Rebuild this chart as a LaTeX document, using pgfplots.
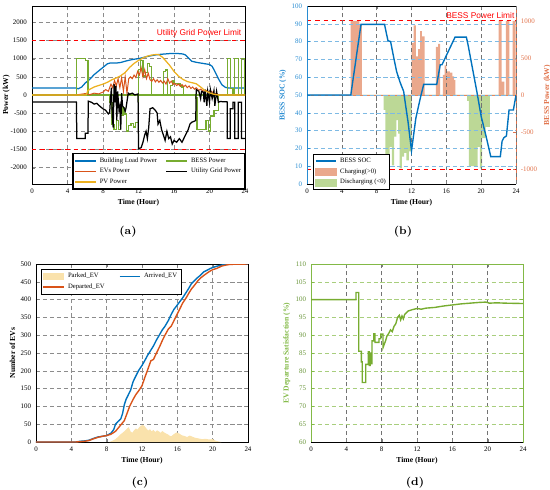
\documentclass[border=0pt]{standalone}
\usepackage{fontspec}
\setmainfont{Liberation Serif}
\newfontfamily\lsans{Liberation Sans}
\newfontfamily\lmr{Latin Modern Roman}
\usepackage{pgfplots}
\pgfplotsset{compat=1.18}
\usepackage{pgfplotstable}

\definecolor{mblue}{RGB}{0,114,189}
\definecolor{morange}{RGB}{217,83,25}
\definecolor{myellow}{RGB}{237,177,32}
\definecolor{mgreen}{RGB}{119,172,48}
\definecolor{socblue}{RGB}{40,140,210}
\definecolor{pwrorange}{RGB}{225,115,75}
\definecolor{chargefill}{RGB}{234,168,140}
\definecolor{dischfill}{RGB}{188,216,150}
\definecolor{parkfill}{RGB}{250,226,172}
\definecolor{dgreen}{RGB}{130,185,70}

\pgfplotstableread{
t p
0 0
5.0 0
5.0 1000
6.0 1000
6.0 950
6.3 950
6.3 0
12.0 0
12.0 700
12.25 700
12.25 940
12.5 940
12.5 520
12.75 520
12.75 620
13.0 620
13.0 860
13.2 860
13.2 790
13.5 790
13.5 0
14.8 0
14.8 650
15.05 650
15.05 690
15.3 690
15.3 0
15.6 0
15.6 270
15.8 270
15.8 400
16.0 400
16.0 320
16.4 320
16.4 300
16.7 300
16.7 250
16.9 250
16.9 200
17.05 200
17.05 0
22.0 0
22.0 1000
22.35 1000
22.35 180
22.65 180
22.65 0
22.85 0
22.85 1000
23.25 1000
23.25 0
23.6 0
23.6 1000
23.95 1000
23.95 0
24 0
}\chargetab

\pgfplotstableread{
t p
0 0
8.8 0
8.8 -200
9.0 -200
9.0 -810
9.25 -810
9.25 -940
9.5 -940
9.5 -700
9.75 -700
9.75 -950
10.0 -950
10.0 -560
10.25 -560
10.25 -340
10.45 -340
10.45 -520
10.65 -520
10.65 -990
10.9 -990
10.9 -830
11.15 -830
11.15 -780
11.4 -780
11.4 -880
11.7 -880
11.7 -760
12.0 -760
12.0 0
18.4 0
18.4 -80
18.6 -80
18.6 -960
19.6 -960
19.6 -700
19.85 -700
19.85 -990
20.1 -990
20.1 -580
20.5 -580
20.5 -430
21.0 -430
21.0 0
24 0
}\dischtab

\pgfplotsset{
  base/.style={
    scale only axis, height=128.16pt,
    xmin=0, xmax=24, xtick={0,4,...,24},
    tick label style={font=\fontsize{5}{6}\selectfont},
    label style={font=\fontsize{5.5}{6.5}\selectfont\bfseries},
    /pgf/number format/assume math mode=true,
    /pgf/number format/1000 sep={},
    major tick length=2pt, tick align=inside,
    axis line style={line width=0.4pt},
    major grid style={densely dashed, black!45, line width=0.3pt},
    xlabel={Time (Hour)},
    xlabel style={yshift=3pt},
    legend style={font=\fontsize{4.8}{5.5}\selectfont,
      inner sep=0.8pt, row sep=-1.2pt},
    legend image code/.code={\draw[#1, line width=1.4pt] (0pt,0pt) -- (15pt,0pt);},
    legend cell align=left,
  },
}

\begin{document}
\begin{tikzpicture}
\useasboundingbox (0,0) rectangle (396pt,-352.8pt);

% ---------------- (a)
\begin{axis}[base, at={(23.04pt,-132.48pt)}, anchor=south west, width=153.36pt,
  ymin=-2450, ymax=2450, ytick={-2000,-1500,...,2000},
  grid=major, ylabel={Power (kW)}, ylabel style={yshift=-6.5pt},
  legend columns=2,
  legend style={at={(0.19,0.174)}, anchor=north west, /tikz/every even column/.append style={column sep=4pt}},
  line width=0.9pt]
\addplot[red, dashed, line width=0.6pt, forget plot] coordinates {(0,1500)(24,1500)};
\addplot[red, dashed, line width=0.6pt, forget plot] coordinates {(0,-1500)(24,-1500)};
\addplot[mblue] coordinates {(0,190)(5,190)(5.2,170)(5.6,220)(6,330)(6.5,430)(7,560)(7.5,660)(8,760)(8.5,860)(8.8,880)(9.5,880)(10,895)(10.5,930)(11,960)(11.5,985)(12,1000)(12.5,1030)(13,1060)(13.5,1085)(14,1105)(14.5,1120)(15,1130)(15.5,1140)(16,1140)(16.5,1140)(17,1130)(17.3,1100)(17.6,1030)(18,930)(18.5,900)(19,880)(19.5,860)(20,840)(20.3,790)(20.6,650)(21,450)(21.4,280)(21.8,210)(22.2,190)(24,190)};
\addlegendentry{Building Load Power}
\addplot[mgreen] table[x=t,y=p] {\chargetab};
\addlegendentry{BESS Power}
\addplot[mgreen, forget plot] table[x=t,y=p] {\dischtab};
\addplot[morange, line width=0.7pt] coordinates {(0,0)(5,0)(5.5,20)(6,40)(6.5,10)(7,50)(7.5,30)(8,80)(8.3,150)(8.6,100)(8.9,300)(9.1,200)(9.3,400)(9.5,250)(9.7,450)(9.9,200)(10.1,480)(10.3,100)(10.5,500)(10.7,50)(10.9,450)(11.1,500)(11.3,450)(11.5,550)(11.7,480)(11.9,650)(12.1,550)(12.3,750)(12.5,500)(12.7,700)(12.9,450)(13.1,600)(13.3,420)(13.5,380)(13.7,450)(13.9,360)(14.1,420)(14.3,350)(14.5,400)(14.7,330)(14.9,380)(15.1,300)(15.3,450)(15.5,330)(15.7,380)(15.9,290)(16.1,320)(16.3,260)(16.5,300)(16.7,240)(16.9,290)(17.1,230)(17.3,270)(17.5,200)(17.7,250)(17.9,180)(18.1,220)(18.3,160)(18.5,200)(18.8,130)(19.0,160)(19.3,110)(19.6,130)(19.9,80)(20.2,100)(20.5,50)(20.8,40)(21.0,0)(24,0)};
\addlegendentry{EVs Power}
\addplot[black] coordinates {(0,-190)(5.0,-190)(5.05,-1200)(6.0,-1200)(6.0,-1050)(6.3,-1050)(6.35,-170)(6.7,-200)(7.0,-250)(7.3,-230)(7.6,-300)(8.0,-380)(8.3,-420)(8.6,-520)(8.75,-480)(8.85,-100)(8.95,200)(9.05,-600)(9.15,-900)(9.25,300)(9.35,-200)(9.45,250)(9.55,-700)(9.65,100)(9.8,-400)(9.9,-300)(10.0,-950)(10.1,50)(10.2,-300)(10.35,-350)(10.5,-450)(10.6,-350)(10.75,-100)(10.85,50)(11.0,20)(11.3,50)(11.6,0)(11.95,30)(12.0,-1480)(12.3,-1450)(12.5,-1300)(12.7,-1100)(12.85,-1000)(13.0,-1200)(13.15,-900)(13.3,-380)(13.6,-350)(13.9,-420)(14.1,-500)(14.2,-800)(14.4,-700)(14.6,-950)(14.8,-1100)(15.0,-1250)(15.2,-1000)(15.4,-1200)(15.6,-1150)(15.8,-1350)(16.0,-1250)(16.3,-1300)(16.6,-1200)(16.9,-1300)(17.1,-1200)(17.3,-1100)(17.6,-950)(17.8,-800)(18.0,-750)(18.3,-720)(18.45,-700)(18.5,150)(18.8,100)(19.0,-100)(19.1,100)(19.3,80)(19.4,-200)(19.5,150)(19.7,-300)(19.8,100)(20.0,-200)(20.1,150)(20.3,-100)(20.5,120)(20.6,-300)(20.8,100)(21.0,-200)(21.2,-180)(22.0,-190)(22.0,-1200)(22.35,-1200)(22.35,-380)(22.65,-380)(22.65,-200)(22.85,-200)(22.85,-1200)(23.25,-1200)(23.25,-200)(23.6,-200)(23.6,-1200)(23.95,-1200)(24,-1200)};
\addlegendentry{Utility Grid Power}
\addplot[myellow] coordinates {(0,0)(6.1,0)(6.3,120)(6.6,170)(7,220)(7.5,260)(8,300)(8.5,350)(9,420)(9.5,470)(10,530)(10.5,620)(11,760)(11.5,870)(12,950)(12.5,1020)(13,1070)(13.5,1100)(14,1115)(14.3,1110)(14.7,1040)(15,960)(15.5,820)(16,650)(16.5,520)(17,430)(17.5,370)(18,340)(18.5,310)(19,220)(19.5,120)(20,60)(20.5,20)(21,0)(24,0)};
\addlegendentry{PV Power}
\node[anchor=south east, red, font=\lsans\fontsize{6}{7}\selectfont, inner sep=1pt, yshift=1pt] at (axis cs:23.8,1500) {Utility Grid Power Limit};
\end{axis}

% ---------------- (b) right axis (bars)
\begin{axis}[base, at={(221.04pt,-132.48pt)}, anchor=south west, width=150.48pt,
  ymin=-1200, ymax=1200, ytick={-1000,-500,0,500,1000},
  axis y line*=right, axis x line=none,
  y axis line style={pwrorange},
  yticklabel style={pwrorange}, ytick style={pwrorange},
  ylabel={BESS Power (kW)}, ylabel style={pwrorange, yshift=2pt}, xlabel={}]
\addplot[fill=chargefill, draw=none] table[x=t,y=p] {\chargetab} \closedcycle;
\addplot[fill=dischfill, draw=none] table[x=t,y=p] {\dischtab} \closedcycle;
\addplot[morange!70!white, line width=0.4pt] coordinates {(0,0)(24,0)};
\addplot[red, dashed, line width=0.6pt] coordinates {(0,1000)(24,1000)};
\addplot[red, dashed, line width=0.6pt] coordinates {(0,-1000)(24,-1000)};
\node[anchor=south east, red, font=\lsans\fontsize{6}{7}\selectfont, inner sep=1pt, yshift=0.5pt] at (axis cs:24,1000) {BESS Power Limit};
\end{axis}

% ---------------- (b) left axis (SOC)
\begin{axis}[base, at={(221.04pt,-132.48pt)}, anchor=south west, width=150.48pt,
  ymin=0, ymax=100, ytick={0,10,...,100},
  axis y line*=left, axis x line*=box,
  y axis line style={socblue},
  yticklabel style={socblue}, ytick style={socblue},
  ylabel={BESS SOC (\%)}, ylabel style={socblue, yshift=-3pt},
  xmajorgrids, ymajorgrids,
  x grid style={densely dashed, black!55, line width=0.3pt},
  y grid style={densely dashed, socblue!60, line width=0.3pt},
  legend style={at={(0.03,0.169)}, anchor=north west}]
\addplot[mblue, line width=1pt] coordinates {(0,50)(5.03,50)(6.2,89.7)(8.9,89.7)(9.1,85)(9.3,80.5)(9.6,80)(10,70)(10.3,63)(10.7,57)(11.1,52)(11.3,45)(11.6,35)(12,18.7)(12.5,37)(13,48)(13.4,56)(14.9,56)(15.3,67)(15.5,67)(17,82.5)(18.3,82.5)(18.5,78)(19.5,52)(20,38)(20.6,26)(21.1,15.4)(22.2,15.4)(22.4,24)(22.6,26)(22.9,27)(23.2,41.6)(23.7,41.6)(24,50)};
\addlegendentry{BESS SOC}
\addlegendimage{legend image code/.code={\fill[chargefill] (0pt,-2.6pt) rectangle (15pt,2.6pt);}}
\addlegendentry{Charging(>0)}
\addlegendimage{legend image code/.code={\fill[dischfill] (0pt,-2.6pt) rectangle (15pt,2.6pt);}}
\addlegendentry{Discharging (<0)}
\end{axis}

% ---------------- (c)
\begin{axis}[base, at={(25.92pt,-318.24pt)}, anchor=south west, width=152.64pt,
  ymin=0, ymax=500, ytick={0,50,...,500}, grid=major,
  ylabel={Number of EVs}, ylabel style={yshift=-3pt},
  legend columns=2,
  legend style={at={(0.024,0.972)}, anchor=north west, /tikz/every even column/.append style={column sep=8pt}}]
\addplot[fill=parkfill, draw=none, legend image code/.code={\fill[parkfill] (0pt,-2.6pt) rectangle (15pt,2.6pt);}] coordinates {(8.3,0)(8.6,3)(9,8)(9.3,15)(9.6,22)(9.9,28)(10.2,35)(10.5,42)(10.7,30)(10.9,26)(11.1,33)(11.3,38)(11.5,35)(11.7,42)(11.9,46)(12.1,48)(12.3,44)(12.5,38)(12.7,32)(12.9,36)(13.1,30)(13.3,34)(13.5,28)(13.7,33)(13.9,30)(14.1,26)(14.3,31)(14.5,27)(14.7,24)(14.9,22)(15.1,18)(15.3,16)(15.6,22)(15.9,27)(16.2,24)(16.5,19)(16.8,17)(17.1,14)(17.4,18)(17.7,15)(18,12)(18.4,10)(18.8,8)(19.2,9)(19.6,7)(20,8)(20.3,4)(20.6,2)(21,0)} \closedcycle;
\addlegendentry{Parked\_EV}
\addplot[mblue, line width=1pt] coordinates {(0,0)(4.5,0)(5,2)(5.5,3)(6,5)(6.5,10)(7,14)(7.5,16)(8,18)(8.5,25)(8.8,35)(9,50)(9.3,58)(9.6,65)(9.8,80)(10,105)(10.2,120)(10.5,135)(10.7,145)(11,170)(11.3,185)(11.6,200)(12,215)(12.3,228)(12.6,242)(13,258)(13.3,270)(13.6,285)(14,302)(14.3,315)(14.6,325)(15,342)(15.3,358)(15.6,372)(16,385)(16.3,395)(16.6,405)(17,420)(17.3,432)(17.6,445)(18,455)(18.3,462)(18.6,468)(19,478)(19.4,483)(19.7,487)(20,490)(20.5,494)(21,497)(21.5,499)(22,500)(24,500)};
\addlegendentry{Arrived\_EV}
\addplot[morange, line width=1pt] coordinates {(0,0)(4.5,0)(5,1)(5.5,2)(6,4)(6.5,9)(7,13)(7.5,16)(8,18)(8.5,22)(9,30)(9.5,45)(10,60)(10.3,80)(10.6,100)(11,120)(11.3,133)(11.6,143)(12,158)(12.3,180)(12.6,200)(13,228)(13.3,232)(13.6,248)(14,268)(14.3,285)(14.6,300)(15,318)(15.3,325)(15.6,340)(16,360)(16.3,375)(16.6,390)(17,405)(17.3,418)(17.6,430)(18,442)(18.3,452)(18.6,460)(19,468)(19.4,475)(19.7,480)(20,484)(20.5,488)(21,494)(21.5,497)(22,499)(24,500)};
\addlegendentry{Departed\_EV}
\end{axis}

% ---------------- (d)
\begin{axis}[base, at={(223.92pt,-318.24pt)}, anchor=south west, width=152.64pt,
  ymin=60, ymax=110, ytick={60,65,...,110},
  axis line style={dgreen}, yticklabel style={dgreen!80!black}, ytick style={dgreen},
  xmajorgrids, ymajorgrids,
  x grid style={densely dashed, black!55, line width=0.3pt},
  y grid style={densely dashed, dgreen!70, line width=0.3pt},
  ylabel={EV Departure Satisfaction (\%)}, ylabel style={dgreen, yshift=-3pt}]
\addplot[mgreen, line width=1pt] coordinates {(0,100)(5.1,100)(5.1,102)(5.4,102)(5.4,85.5)(5.7,85.5)(5.7,82.5)(5.8,82.5)(5.8,76.7)(6.2,76.7)(6.2,81.8)(6.5,81.8)(6.5,85.3)(6.6,85.3)(6.6,81.5)(6.7,81.5)(6.7,85)(6.8,85)(6.8,82)(6.9,82)(6.9,88.4)(7.1,88.4)(7.1,90.4)(7.25,90.4)(7.25,88)(7.7,88)(7.7,89)(7.9,89)(7.9,90.3)(8.15,90.3)(8.15,86.5)(8.3,87.5)(8.45,88.5)(8.6,89.8)(8.8,90.5)(9.0,91.5)(9.2,91)(9.4,92.5)(9.6,93.2)(9.8,95)(10.0,95.6)(10.15,94.3)(10.3,95.4)(10.45,94.6)(10.6,95.8)(10.8,96.3)(11.0,96.8)(11.5,97.2)(12,97.5)(12.5,97.3)(13,97.6)(14,97.8)(15,98.2)(16,98.5)(17,98.8)(18,99)(19,99.2)(19.8,99.3)(20.2,99)(21,99.1)(22,99)(24,98.9)};
\draw[black, line width=0.4pt] (rel axis cs:0,0) -- (rel axis cs:1,0);
\end{axis}

% captions
\node[font=\lmr\bfseries\fontsize{8}{9}\selectfont] at (92.16pt,-167.04pt) {(a)};
\node[font=\lmr\bfseries\fontsize{8}{9}\selectfont] at (290.16pt,-167.04pt) {(b)};
\node[font=\lmr\bfseries\fontsize{8}{9}\selectfont] at (100.8pt,-347.76pt) {(c)};
\node[font=\lmr\bfseries\fontsize{8}{9}\selectfont] at (298.8pt,-347.76pt) {(d)};
\end{tikzpicture}
\end{document}
